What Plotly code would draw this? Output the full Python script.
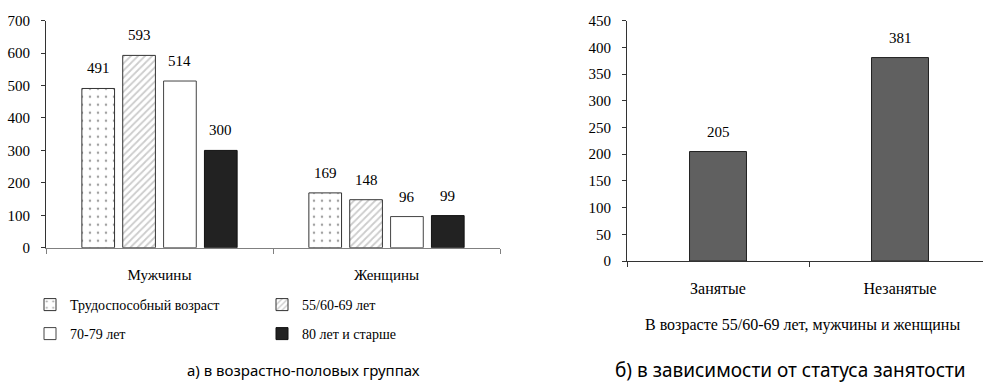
import plotly.graph_objects as go

# ---- data ----
groups = ["Мужчины", "Женщины"]
series_names = ["Трудоспособный возраст", "55/60-69 лет", "70-79 лет", "80 лет и старше"]
working_age = [491, 169]
age_55_69 = [593, 148]
age_70_79 = [514, 96]
age_80_plus = [300, 99]

status_cats = ["Занятые", "Незанятые"]
status_vals = [205, 381]

left_ticks = [0, 100, 200, 300, 400, 500, 600, 700]
right_ticks = [0, 50, 100, 150, 200, 250, 300, 350, 400, 450]

caption_left = "а) в возрастно-половых группах"
caption_right = "б) в зависимости от статуса занятости"
subtitle_right = "В возрасте 55/60-69 лет, мужчины и женщины"

# ---- layout constants ----
W, H = 983, 383
SERIF = "Liberation Serif"
SANS = "Noto Sans"
dom_left = [46 / W, 500 / W]
dom_right = [627 / W, 1.0]
ydom_left = [(H - 247.7) / H, (H - 20.7) / H]
ydom_right = [(H - 261) / H, (H - 20.7) / H]
BARGAP = 0.28
BARGROUPGAP = 0.2

all_series = [working_age, age_55_69, age_70_79, age_80_plus]
styles = [
    dict(color="white", pattern=dict(shape=".", fgcolor="#444", bgcolor="white", size=8, solidity=0.08), line=dict(color="#333", width=1)),
    dict(color="white", pattern=dict(shape="/", fgcolor="#999", bgcolor="white", size=5, solidity=0.35), line=dict(color="#333", width=1)),
    dict(color="white", line=dict(color="#444", width=1)),
    dict(color="#222222", line=dict(color="#111", width=1)),
]
legend_ref = ["legend", "legend", "legend2", "legend2"]

fig = go.Figure()
for name, vals, st, lg in zip(series_names, all_series, styles, legend_ref):
    fig.add_trace(go.Bar(x=groups, y=vals, name=name, marker=st, xaxis="x", yaxis="y",
                         legend=lg, hoverinfo="skip"))

fig.add_trace(go.Bar(x=status_cats, y=status_vals, name="status", xaxis="x2", yaxis="y2",
                     width=0.313, marker=dict(color="#606060", line=dict(color="#222", width=1)),
                     showlegend=False, hoverinfo="skip"))

# value labels
cat_px = (dom_left[1] - dom_left[0]) * W / len(groups)
slot_px = cat_px * (1 - BARGAP) / len(all_series)
annotations = []
for i, vals in enumerate(all_series):
    for g, v in zip(groups, vals):
        annotations.append(dict(x=g, y=v, xref="x", yref="y", text=str(v), showarrow=False,
                                xshift=(i - (len(all_series) - 1) / 2) * slot_px, yshift=20,
                                yanchor="middle", font=dict(family=SERIF, size=15, color="black")))
for c, v in zip(status_cats, status_vals):
    annotations.append(dict(x=c, y=v, xref="x2", yref="y2", text=str(v), showarrow=False,
                            yshift=20, yanchor="middle", font=dict(family=SERIF, size=15, color="black")))

annotations.append(dict(x=802 / W, y=(H - 325) / H, xref="paper", yref="paper", text=subtitle_right,
                        xanchor="center", yanchor="middle",
                        showarrow=False, font=dict(family=SERIF, size=16, color="black")))
annotations.append(dict(x=303 / W, y=(H - 370) / H, xref="paper", yref="paper", text=caption_left,
                        xanchor="center", yanchor="middle",
                        showarrow=False, font=dict(family=SANS, size=15, color="black")))
annotations.append(dict(x=790 / W, y=(H - 370) / H, xref="paper", yref="paper", text=caption_right,
                        xanchor="center", yanchor="middle",
                        showarrow=False, font=dict(family=SANS, size=19, color="black")))

axis_common = dict(showline=True, linecolor="#333", linewidth=1, ticks="outside", tickcolor="#333",
                   ticklen=4, showgrid=False, zeroline=False, automargin=False,
                   tickfont=dict(family=SERIF, size=15, color="black"))

legend_common = dict(orientation="h", x=30 / W, xanchor="left", yanchor="middle",
                     entrywidth=187, entrywidthmode="pixels", itemwidth=30, bgcolor="rgba(0,0,0,0)",
                     font=dict(family=SERIF, size=14, color="black"), itemclick=False, itemdoubleclick=False)

fig.update_layout(
    width=W, height=H, margin=dict(l=0, r=0, t=0, b=0, autoexpand=False),
    paper_bgcolor="white", plot_bgcolor="white",
    barmode="group", bargap=BARGAP, bargroupgap=BARGROUPGAP,
    xaxis=dict(domain=dom_left, anchor="y", tickson="boundaries", ticklabelstandoff=13,
               range=[-0.5, 1.5],
               **{**axis_common, "linecolor": "#808080", "tickcolor": "#808080", "ticklen": 5}),
    yaxis=dict(domain=ydom_left, anchor="x", range=[0, 700], tickvals=left_ticks,
               ticklabelstandoff=8, **axis_common),
    xaxis2=dict(domain=dom_right, anchor="y2", tickson="boundaries", ticklabelstandoff=13,
                range=[-0.5, 1.456],
                **{**axis_common, "ticklen": 5, "tickfont": dict(family=SERIF, size=16, color="black")}),
    yaxis2=dict(domain=ydom_right, anchor="x2", range=[0, 450], tickvals=right_ticks,
                ticklabelstandoff=8, **axis_common),
    legend=dict(y=(H - 305) / H, **legend_common),
    legend2=dict(y=(H - 334) / H, **legend_common),
    annotations=annotations,
)

fig.write_html("out.html", config={"displayModeBar": False},
               post_script="document.body.style.margin='0px';")
